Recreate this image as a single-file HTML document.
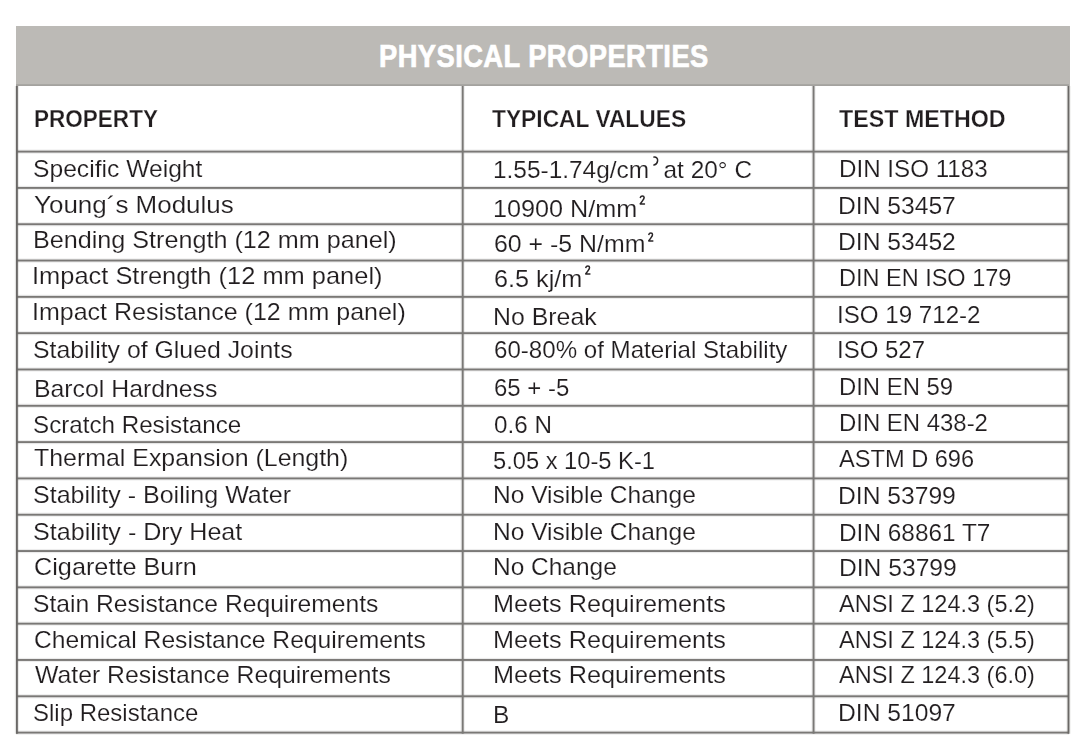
<!DOCTYPE html>
<html><head><meta charset="utf-8"><style>
html,body{margin:0;padding:0;background:#ffffff;}
body{width:1079px;height:746px;position:relative;overflow:hidden;font-family:"Liberation Sans",sans-serif;}
.l{position:absolute;background:#7a7876;box-shadow:0 0 0 1px rgba(60,58,56,0.08);}
.g{position:absolute;background:#bcbab6;}
.t{position:absolute;white-space:nowrap;transform-origin:0 0;-webkit-text-stroke:0.15px #fff;}
#title{-webkit-text-stroke:0.7px #fff;letter-spacing:0.5px;}
#h0,#h1,#h2{-webkit-text-stroke:0.25px #fff;}
.sp{display:inline-block;vertical-align:8px;margin-left:1.5px;}
#wrap{position:absolute;left:0;top:0;width:1079px;height:746px;filter:blur(0.35px);}
</style></head><body><div id="wrap">
<div class="g" style="left:15.5px;top:26px;width:1054px;height:60px"></div>
<svg style="position:absolute;left:0;top:0" width="1079" height="746" viewBox="0 0 1079 746"><rect x="16" y="84.2" width="1053" height="1.8" fill="#a4a29f"/><rect x="16" y="149.500" width="1053" height="4.2" fill="#7a7876" opacity="0.14"/><rect x="16" y="150.650" width="1053" height="1.9" fill="#7a7876"/><rect x="16" y="185.812" width="1053" height="4.2" fill="#7a7876" opacity="0.14"/><rect x="16" y="186.963" width="1053" height="1.9" fill="#7a7876"/><rect x="16" y="222.125" width="1053" height="4.2" fill="#7a7876" opacity="0.14"/><rect x="16" y="223.275" width="1053" height="1.9" fill="#7a7876"/><rect x="16" y="258.438" width="1053" height="4.2" fill="#7a7876" opacity="0.14"/><rect x="16" y="259.588" width="1053" height="1.9" fill="#7a7876"/><rect x="16" y="294.750" width="1053" height="4.2" fill="#7a7876" opacity="0.14"/><rect x="16" y="295.900" width="1053" height="1.9" fill="#7a7876"/><rect x="16" y="331.062" width="1053" height="4.2" fill="#7a7876" opacity="0.14"/><rect x="16" y="332.213" width="1053" height="1.9" fill="#7a7876"/><rect x="16" y="367.375" width="1053" height="4.2" fill="#7a7876" opacity="0.14"/><rect x="16" y="368.525" width="1053" height="1.9" fill="#7a7876"/><rect x="16" y="403.688" width="1053" height="4.2" fill="#7a7876" opacity="0.14"/><rect x="16" y="404.838" width="1053" height="1.9" fill="#7a7876"/><rect x="16" y="440.000" width="1053" height="4.2" fill="#7a7876" opacity="0.14"/><rect x="16" y="441.150" width="1053" height="1.9" fill="#7a7876"/><rect x="16" y="476.312" width="1053" height="4.2" fill="#7a7876" opacity="0.14"/><rect x="16" y="477.463" width="1053" height="1.9" fill="#7a7876"/><rect x="16" y="512.625" width="1053" height="4.2" fill="#7a7876" opacity="0.14"/><rect x="16" y="513.775" width="1053" height="1.9" fill="#7a7876"/><rect x="16" y="548.938" width="1053" height="4.2" fill="#7a7876" opacity="0.14"/><rect x="16" y="550.087" width="1053" height="1.9" fill="#7a7876"/><rect x="16" y="585.250" width="1053" height="4.2" fill="#7a7876" opacity="0.14"/><rect x="16" y="586.400" width="1053" height="1.9" fill="#7a7876"/><rect x="16" y="621.562" width="1053" height="4.2" fill="#7a7876" opacity="0.14"/><rect x="16" y="622.712" width="1053" height="1.9" fill="#7a7876"/><rect x="16" y="657.875" width="1053" height="4.2" fill="#7a7876" opacity="0.14"/><rect x="16" y="659.025" width="1053" height="1.9" fill="#7a7876"/><rect x="16" y="694.188" width="1053" height="4.2" fill="#7a7876" opacity="0.14"/><rect x="16" y="695.337" width="1053" height="1.9" fill="#7a7876"/><rect x="16" y="730.500" width="1053" height="4.2" fill="#7a7876" opacity="0.14"/><rect x="16" y="731.650" width="1053" height="1.9" fill="#7a7876"/><rect x="14.800" y="86" width="4.2" height="647.700" fill="#6a6866" opacity="0.14"/><rect x="15.950" y="86" width="1.9" height="647.700" fill="#6a6866"/><rect x="1066.400" y="86" width="4.2" height="647.700" fill="#6a6866" opacity="0.14"/><rect x="1067.550" y="86" width="1.9" height="647.700" fill="#6a6866"/><rect x="460.600" y="86" width="4.2" height="647.700" fill="#7a7876" opacity="0.14"/><rect x="461.750" y="86" width="1.9" height="647.700" fill="#7a7876"/><rect x="811.450" y="86" width="4.2" height="647.700" fill="#7a7876" opacity="0.14"/><rect x="812.600" y="86" width="1.9" height="647.700" fill="#7a7876"/></svg>
<div class="t" id="title" style="left:378.55px;top:40.11px;font-size:32px;line-height:32px;font-weight:bold;color:#ffffff;transform:scaleX(0.8545);">PHYSICAL PROPERTIES</div>
<div class="t" id="h0" style="left:33.72px;top:106.78px;font-size:24px;line-height:24px;font-weight:bold;color:#211d1f;transform:scaleX(0.9386);">PROPERTY</div>
<div class="t" id="h1" style="left:492.39px;top:106.78px;font-size:24px;line-height:24px;font-weight:bold;color:#211d1f;transform:scaleX(0.9493);">TYPICAL VALUES</div>
<div class="t" id="h2" style="left:838.60px;top:106.78px;font-size:24px;line-height:24px;font-weight:bold;color:#211d1f;transform:scaleX(0.9690);">TEST METHOD</div>
<div class="t" id="r0c0" style="left:33.18px;top:157.18px;font-size:24px;line-height:24px;font-weight:normal;color:#211d1f;transform:scaleX(1.0268);">Specific Weight</div>
<div class="t" id="r0c1" style="left:493.34px;top:158.18px;font-size:24px;line-height:24px;font-weight:normal;color:#211d1f;transform:scaleX(1.0175);">1.55-1.74g/cm<svg class="sp" style="vertical-align:0;position:relative;top:-12px;margin-left:3.5px;margin-right:-2px" width="6" height="10" viewBox="0 0 6 10"><path d="M1.2 1.1C3.6 0.9 5.1 2.6 4.8 4.8C4.5 7 2.8 8.6 1.2 9" fill="none" stroke="#2a2628" stroke-width="1.5" stroke-linecap="round"/></svg> at 20° C</div>
<div class="t" id="r0c2" style="left:838.58px;top:157.18px;font-size:24px;line-height:24px;font-weight:normal;color:#211d1f;transform:scaleX(1.0073);">DIN ISO 1183</div>
<div class="t" id="r1c0" style="left:33.59px;top:192.69px;font-size:24px;line-height:24px;font-weight:normal;color:#211d1f;transform:scaleX(1.0824);">Young´s Modulus</div>
<div class="t" id="r1c1" style="left:492.85px;top:196.59px;font-size:24px;line-height:24px;font-weight:normal;color:#211d1f;transform:scaleX(1.0503);">10900 N/mm<svg class="sp" style="vertical-align:0;position:relative;top:-12px" width="6" height="10" viewBox="0 0 6 10"><path d="M1.3 2.4C1.9 0.7 4.7 0.6 4.9 2.5C5.1 4.3 2.6 6.4 1.2 8.9L5.3 8.9" fill="none" stroke="#2a2628" stroke-width="1.5" stroke-linecap="round" stroke-linejoin="round"/></svg></div>
<div class="t" id="r1c2" style="left:838.39px;top:193.89px;font-size:24px;line-height:24px;font-weight:normal;color:#211d1f;transform:scaleX(1.0269);">DIN 53457</div>
<div class="t" id="r2c0" style="left:33.12px;top:228.40px;font-size:24px;line-height:24px;font-weight:normal;color:#211d1f;transform:scaleX(1.0484);">Bending Strength (12 mm panel)</div>
<div class="t" id="r2c1" style="left:493.88px;top:232.10px;font-size:24px;line-height:24px;font-weight:normal;color:#211d1f;transform:scaleX(1.0370);">60 + -5 N/mm<svg class="sp" style="vertical-align:0;position:relative;top:-10.5px" width="6" height="10" viewBox="0 0 6 10"><path d="M1.3 2.4C1.9 0.7 4.7 0.6 4.9 2.5C5.1 4.3 2.6 6.4 1.2 8.9L5.3 8.9" fill="none" stroke="#2a2628" stroke-width="1.5" stroke-linecap="round" stroke-linejoin="round"/></svg></div>
<div class="t" id="r2c2" style="left:838.39px;top:229.60px;font-size:24px;line-height:24px;font-weight:normal;color:#211d1f;transform:scaleX(1.0269);">DIN 53452</div>
<div class="t" id="r3c0" style="left:31.70px;top:263.62px;font-size:24px;line-height:24px;font-weight:normal;color:#211d1f;transform:scaleX(1.0596);">Impact Strength (12 mm panel)</div>
<div class="t" id="r3c1" style="left:493.53px;top:266.62px;font-size:24px;line-height:24px;font-weight:normal;color:#211d1f;transform:scaleX(1.0516);">6.5 kj/m<svg class="sp" style="vertical-align:0;position:relative;top:-11.5px" width="6" height="10" viewBox="0 0 6 10"><path d="M1.3 2.4C1.9 0.7 4.7 0.6 4.9 2.5C5.1 4.3 2.6 6.4 1.2 8.9L5.3 8.9" fill="none" stroke="#2a2628" stroke-width="1.5" stroke-linecap="round" stroke-linejoin="round"/></svg></div>
<div class="t" id="r3c2" style="left:838.70px;top:265.92px;font-size:24px;line-height:24px;font-weight:normal;color:#211d1f;transform:scaleX(0.9791);">DIN EN ISO 179</div>
<div class="t" id="r4c0" style="left:31.77px;top:300.23px;font-size:24px;line-height:24px;font-weight:normal;color:#211d1f;transform:scaleX(1.0416);">Impact Resistance (12 mm panel)</div>
<div class="t" id="r4c1" style="left:493.06px;top:304.53px;font-size:24px;line-height:24px;font-weight:normal;color:#211d1f;transform:scaleX(1.0366);">No Break</div>
<div class="t" id="r4c2" style="left:836.99px;top:302.63px;font-size:24px;line-height:24px;font-weight:normal;color:#211d1f;transform:scaleX(1.0054);">ISO 19 712-2</div>
<div class="t" id="r5c0" style="left:33.11px;top:337.54px;font-size:24px;line-height:24px;font-weight:normal;color:#211d1f;transform:scaleX(1.0351);">Stability of Glued Joints</div>
<div class="t" id="r5c1" style="left:494.07px;top:337.54px;font-size:24px;line-height:24px;font-weight:normal;color:#211d1f;transform:scaleX(1.0044);">60-80% of Material Stability</div>
<div class="t" id="r5c2" style="left:837.28px;top:338.34px;font-size:24px;line-height:24px;font-weight:normal;color:#211d1f;transform:scaleX(0.9997);">ISO 527</div>
<div class="t" id="r6c0" style="left:33.86px;top:376.85px;font-size:24px;line-height:24px;font-weight:normal;color:#211d1f;transform:scaleX(1.0339);">Barcol Hardness</div>
<div class="t" id="r6c1" style="left:493.95px;top:376.45px;font-size:24px;line-height:24px;font-weight:normal;color:#211d1f;transform:scaleX(0.9985);">65 + -5</div>
<div class="t" id="r6c2" style="left:839.09px;top:374.85px;font-size:24px;line-height:24px;font-weight:normal;color:#211d1f;transform:scaleX(0.9946);">DIN EN 59</div>
<div class="t" id="r7c0" style="left:32.94px;top:413.37px;font-size:24px;line-height:24px;font-weight:normal;color:#211d1f;transform:scaleX(1.0075);">Scratch Resistance</div>
<div class="t" id="r7c1" style="left:494.02px;top:413.17px;font-size:24px;line-height:24px;font-weight:normal;color:#211d1f;transform:scaleX(1.0100);">0.6 N</div>
<div class="t" id="r7c2" style="left:838.93px;top:411.37px;font-size:24px;line-height:24px;font-weight:normal;color:#211d1f;transform:scaleX(0.9968);">DIN EN 438-2</div>
<div class="t" id="r8c0" style="left:33.53px;top:446.28px;font-size:24px;line-height:24px;font-weight:normal;color:#211d1f;transform:scaleX(1.0378);">Thermal Expansion (Length)</div>
<div class="t" id="r8c1" style="left:493.23px;top:448.78px;font-size:24px;line-height:24px;font-weight:normal;color:#211d1f;transform:scaleX(0.9871);">5.05 x 10-5 K-1</div>
<div class="t" id="r8c2" style="left:838.89px;top:447.28px;font-size:24px;line-height:24px;font-weight:normal;color:#211d1f;transform:scaleX(0.9835);">ASTM D 696</div>
<div class="t" id="r9c0" style="left:32.68px;top:482.99px;font-size:24px;line-height:24px;font-weight:normal;color:#211d1f;transform:scaleX(1.0438);">Stability - Boiling Water</div>
<div class="t" id="r9c1" style="left:492.96px;top:482.79px;font-size:24px;line-height:24px;font-weight:normal;color:#211d1f;transform:scaleX(1.0224);">No Visible Change</div>
<div class="t" id="r9c2" style="left:838.46px;top:483.99px;font-size:24px;line-height:24px;font-weight:normal;color:#211d1f;transform:scaleX(1.0269);">DIN 53799</div>
<div class="t" id="r10c0" style="left:32.68px;top:519.60px;font-size:24px;line-height:24px;font-weight:normal;color:#211d1f;transform:scaleX(1.0462);">Stability - Dry Heat</div>
<div class="t" id="r10c1" style="left:492.96px;top:519.60px;font-size:24px;line-height:24px;font-weight:normal;color:#211d1f;transform:scaleX(1.0224);">No Visible Change</div>
<div class="t" id="r10c2" style="left:839.13px;top:520.60px;font-size:24px;line-height:24px;font-weight:normal;color:#211d1f;transform:scaleX(1.0160);">DIN 68861 T7</div>
<div class="t" id="r11c0" style="left:34.34px;top:554.82px;font-size:24px;line-height:24px;font-weight:normal;color:#211d1f;transform:scaleX(1.0524);">Cigarette Burn</div>
<div class="t" id="r11c1" style="left:493.16px;top:554.62px;font-size:24px;line-height:24px;font-weight:normal;color:#211d1f;transform:scaleX(1.0191);">No Change</div>
<div class="t" id="r11c2" style="left:838.60px;top:556.42px;font-size:24px;line-height:24px;font-weight:normal;color:#211d1f;transform:scaleX(1.0259);">DIN 53799</div>
<div class="t" id="r12c0" style="left:33.23px;top:591.73px;font-size:24px;line-height:24px;font-weight:normal;color:#211d1f;transform:scaleX(1.0275);">Stain Resistance Requirements</div>
<div class="t" id="r12c1" style="left:493.06px;top:591.53px;font-size:24px;line-height:24px;font-weight:normal;color:#211d1f;transform:scaleX(1.0512);">Meets Requirements</div>
<div class="t" id="r12c2" style="left:839.00px;top:591.53px;font-size:24px;line-height:24px;font-weight:normal;color:#211d1f;transform:scaleX(0.9792);">ANSI Z 124.3 (5.2)</div>
<div class="t" id="r13c0" style="left:34.26px;top:628.24px;font-size:24px;line-height:24px;font-weight:normal;color:#211d1f;transform:scaleX(1.0270);">Chemical Resistance Requirements</div>
<div class="t" id="r13c1" style="left:493.06px;top:627.74px;font-size:24px;line-height:24px;font-weight:normal;color:#211d1f;transform:scaleX(1.0512);">Meets Requirements</div>
<div class="t" id="r13c2" style="left:839.00px;top:627.74px;font-size:24px;line-height:24px;font-weight:normal;color:#211d1f;transform:scaleX(0.9792);">ANSI Z 124.3 (5.5)</div>
<div class="t" id="r14c0" style="left:34.58px;top:663.35px;font-size:24px;line-height:24px;font-weight:normal;color:#211d1f;transform:scaleX(1.0327);">Water Resistance Requirements</div>
<div class="t" id="r14c1" style="left:493.08px;top:663.15px;font-size:24px;line-height:24px;font-weight:normal;color:#211d1f;transform:scaleX(1.0515);">Meets Requirements</div>
<div class="t" id="r14c2" style="left:839.01px;top:663.15px;font-size:24px;line-height:24px;font-weight:normal;color:#211d1f;transform:scaleX(0.9792);">ANSI Z 124.3 (6.0)</div>
<div class="t" id="r15c0" style="left:33.09px;top:700.67px;font-size:24px;line-height:24px;font-weight:normal;color:#211d1f;transform:scaleX(0.9995);">Slip Resistance</div>
<div class="t" id="r15c1" style="left:492.93px;top:702.87px;font-size:24px;line-height:24px;font-weight:normal;color:#211d1f;transform:scaleX(1.0201);">B</div>
<div class="t" id="r15c2" style="left:838.47px;top:701.47px;font-size:24px;line-height:24px;font-weight:normal;color:#211d1f;transform:scaleX(1.0266);">DIN 51097</div>
</div></body></html>
